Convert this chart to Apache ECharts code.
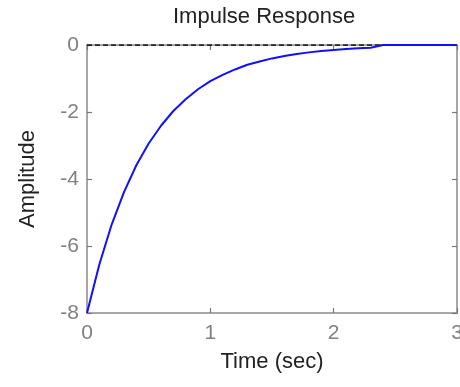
<!DOCTYPE html>
<html><head><meta charset="utf-8">
<script src="https://cdn.jsdelivr.net/npm/echarts@6/dist/echarts.min.js"></script>
<style>html,body{margin:0;padding:0;background:#fff}#c{width:460px;height:387px}</style>
</head><body><div id="c"></div>
<script>
var times = [0,0.1,0.2,0.3,0.4,0.5,0.6,0.7,0.8,0.9,1.0,1.1,1.2,1.3,1.4,1.5,1.6,1.7,1.8,1.9,2.0,2.1,2.2,2.3,2.4,2.7,3.0];
var amplitude = [-8,-6.55,-5.36,-4.39,-3.59,-2.94,-2.41,-1.97,-1.62,-1.32,-1.08,-0.89,-0.73,-0.59,-0.49,-0.40,-0.33,-0.27,-0.22,-0.18,-0.15,-0.12,-0.10,-0.08,0,0,0];
var zeroLineT = [0,2.4];
var zeroLineV = [0,0];
var xTicks = [0,1,2,3];
var yTicks = [-8,-6,-4,-2,0];

var font = 'Liberation Sans, Arial, Helvetica, sans-serif';
var axisGray = '#8a8a8a';
var labelGray = '#808080';
function pairs(a,b){return a.map(function(v,i){return [v,b[i]];});}
var chart = echarts.init(document.getElementById('c'));
var common = {
  axisLine:{show:true,onZero:false,lineStyle:{color:axisGray,width:1.5}},
  axisTick:{show:true,inside:true,length:5,lineStyle:{color:'#777',width:1.2}},
  splitLine:{show:false}
};
chart.setOption({
  animation:false,
  title:{text:'Impulse Response',top:6,textStyle:{fontFamily:font,fontSize:22,fontWeight:'normal',color:'#222'},padding:0,
    left:173},
  grid:{left:87,right:3,top:45,bottom:74,containLabel:false,outerBoundsMode:'none'},
  xAxis:[
    Object.assign({type:'value',min:0,max:3,interval:1,position:'bottom',
      name:'Time (sec)',nameLocation:'middle',nameGap:38,
      nameTextStyle:{fontFamily:font,fontSize:22,color:'#222'},
      axisLabel:{fontFamily:font,fontSize:21,color:labelGray,margin:10}},common),
    Object.assign({type:'value',min:0,max:3,interval:1,position:'top',axisLabel:{show:false}},common)
  ],
  yAxis:[
    Object.assign({type:'value',min:-8,max:0,interval:2,position:'left',
      name:'Amplitude',nameLocation:'middle',nameGap:48,nameRotate:90,
      nameTextStyle:{fontFamily:font,fontSize:22,color:'#222'},
      axisLabel:{fontFamily:font,fontSize:21,color:labelGray,margin:8}},common),
    Object.assign({type:'value',min:-8,max:0,interval:2,position:'right',axisLabel:{show:false}},common)
  ],
  series:[
    {type:'line',data:pairs(zeroLineT,zeroLineV),symbol:'none',lineStyle:{color:'#000',width:1.5,type:[5,3]},z:3},
    {type:'line',data:pairs(times,amplitude),symbol:'none',lineStyle:{color:'#1010ff',width:2},z:4}
  ]
});
</script></body></html>
